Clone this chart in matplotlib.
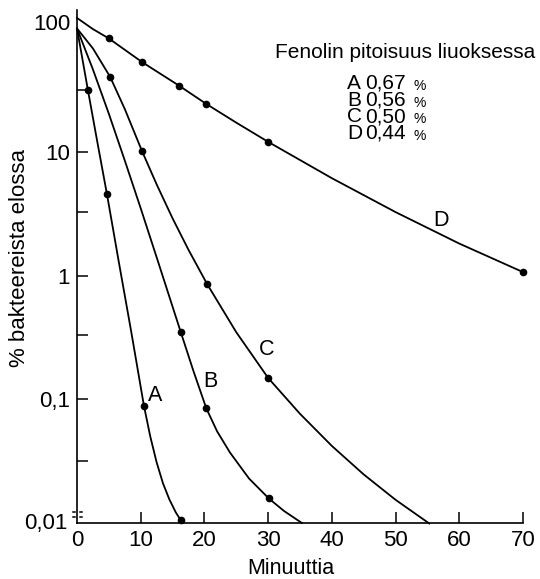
import matplotlib
matplotlib.use("Agg")
import matplotlib.pyplot as plt
import matplotlib.transforms as mtransforms

plt.rcParams['font.family'] = ['Liberation Sans', 'DejaVu Sans']

# measured points (minutes, % alive)
a_t = [1.7, 4.7, 10.5, 16.3]
a_v = [32, 4.57, 0.089, 0.0105]
b_t = [16.3, 20.3, 30.1]
b_v = [0.348, 0.0845, 0.0158]
c_t = [5.2, 10.2, 20.4, 30]
c_v = [40.6, 10.2, 0.86, 0.149]
d_t = [5, 10.2, 16, 20.3, 30, 70]
d_v = [83, 53.5, 34.5, 24.5, 12.1, 1.07]

# drawn curves
a_line_t = [0, 1.7, 3.2, 4.7, 6.6, 8.5, 9.5, 10.5, 11.5, 12.5, 13.5, 14.5, 15.5, 16.3]
a_line_v = [100, 32, 12.0, 4.57, 1.26, 0.355, 0.178, 0.089, 0.0501, 0.0309,
            0.0209, 0.0155, 0.0122, 0.0105]
b_line_t = [0, 2.5, 5, 7.5, 10, 12.5, 15, 16.3, 18.3, 20.3, 22, 24, 27, 30.1, 32.5, 35.3]
b_line_v = [100, 46.6, 20.4, 8.55, 3.51, 1.41, 0.562, 0.348, 0.168, 0.0845,
            0.055, 0.0372, 0.0229, 0.0158, 0.0125, 0.0100]
c_line_t = [0, 2.5, 5.2, 7.5, 10.2, 12.5, 15, 17.5, 20.4, 25, 30, 35, 40, 45, 50, 55.3]
c_line_v = [100, 68.9, 40.6, 22.3, 10.2, 5.48, 2.91, 1.62, 0.86, 0.349, 0.149,
            0.0764, 0.042, 0.0247, 0.0154, 0.0099]
d_line_t = [0, 2.5, 5, 10.2, 16, 20.3, 25, 30, 40, 50, 60, 70]
d_line_v = [121.6, 98.8, 83, 53.5, 34.5, 24.5, 17.3, 12.1, 6.15, 3.27, 1.82, 1.07]

curve_names = ['A', 'B', 'C', 'D']
label_pos = [(12.2, 0.108), (20.9, 0.14), (29.7, 0.254), (57.1, 2.81)]
legend_title = 'Fenolin pitoisuus liuoksessa'
legend_vals = ['0,67', '0,56', '0,50', '0,44']

y_ticks = [0.1, 1, 10, 100]
y_labels = ['0,1', '1', '10', '100']
y_minor = [0.0316, 0.33, 3.3, 31.6]
x_ticks = [0, 10, 20, 30, 40, 50, 60, 70]

W, H = 540, 579
fig = plt.figure(figsize=(W / 100, H / 100), dpi=100)
ax = fig.add_axes([77 / W, 1 - 523 / H, (523 - 77) / W, (523 - 10) / H])

lines = [(a_line_t, a_line_v, a_t, a_v), (b_line_t, b_line_v, b_t, b_v),
         (c_line_t, c_line_v, c_t, c_v), (d_line_t, d_line_v, d_t, d_v)]
for lt, lv, pt, pv in lines:
    ax.plot(lt, lv, color='black', lw=1.3, clip_on=False)
    ax.plot(pt, pv, 'o', color='black', ms=4.5, clip_on=False)

for name, (tx, ty) in zip(curve_names, label_pos):
    ax.text(tx, ty, name, fontsize=15.5, ha='center', va='center')

ax.set_yscale('log')
ax.set_xlim(0, 70)
ax.set_ylim(0.01, 141)
ax.spines['top'].set_visible(False)
ax.spines['right'].set_visible(False)
ax.spines['left'].set_linewidth(1.2)
ax.spines['bottom'].set_linewidth(1.2)

ax.set_yticks(y_ticks)
ax.set_yticklabels(y_labels)
ax.set_yticks(y_minor, minor=True)
ax.yaxis.set_tick_params(which='minor', labelleft=False)
ax.set_xticks(x_ticks)
ax.tick_params(axis='both', which='both', direction='in', length=8, width=1.1,
               labelsize=16, pad=5)
ax.get_yticklines()[-2].set_visible(False)  # no mark at 100
ax.xaxis.get_major_ticks()[0].tick1line.set_visible(False)
# the 100 label sits a little high in the original
lab100 = ax.get_yticklabels()[-1]
lab100.set_transform(lab100.get_transform() +
                     mtransforms.ScaledTranslation(0, 5 / 72, fig.dpi_scale_trans))

# 0,01 label with axis break
ax.text(-0.022, 0.0, '0,01', transform=ax.transAxes, ha='right', va='center',
        fontsize=16)
for yy in (0.021, 0.012):
    ax.plot([-0.009, 0.011], [yy, yy], transform=ax.transAxes, color='black',
            lw=1.1, clip_on=False)
ax.plot([0, 0], [0.0125, 0.0205], transform=ax.transAxes, color='white',
        lw=2.5, clip_on=False)

fig.text(291 / W, 1 - 574 / H, 'Minuuttia', fontsize=15.5, ha='center',
         va='baseline')
fig.text(20 / W, 1 - 258 / H, '% bakteereista elossa', rotation=90,
         ha='center', va='center', fontsize=16)

# legend block: letters, values and small % signs as three columns
fig.text(275 / W, 1 - 58 / H, legend_title, fontsize=15, va='baseline')
top = 1 - 74 / H
fig.text(347 / W, top, '\n'.join(curve_names), fontsize=15, va='top',
         linespacing=0.84)
fig.text(365 / W, top, '\n'.join(legend_vals), fontsize=15, va='top',
         linespacing=0.84)
fig.text(414 / W, 1 - 79 / H, '\n'.join(['%'] * 4), fontsize=10, va='top',
         linespacing=1.24)

fig.savefig('out.png', dpi=100)
